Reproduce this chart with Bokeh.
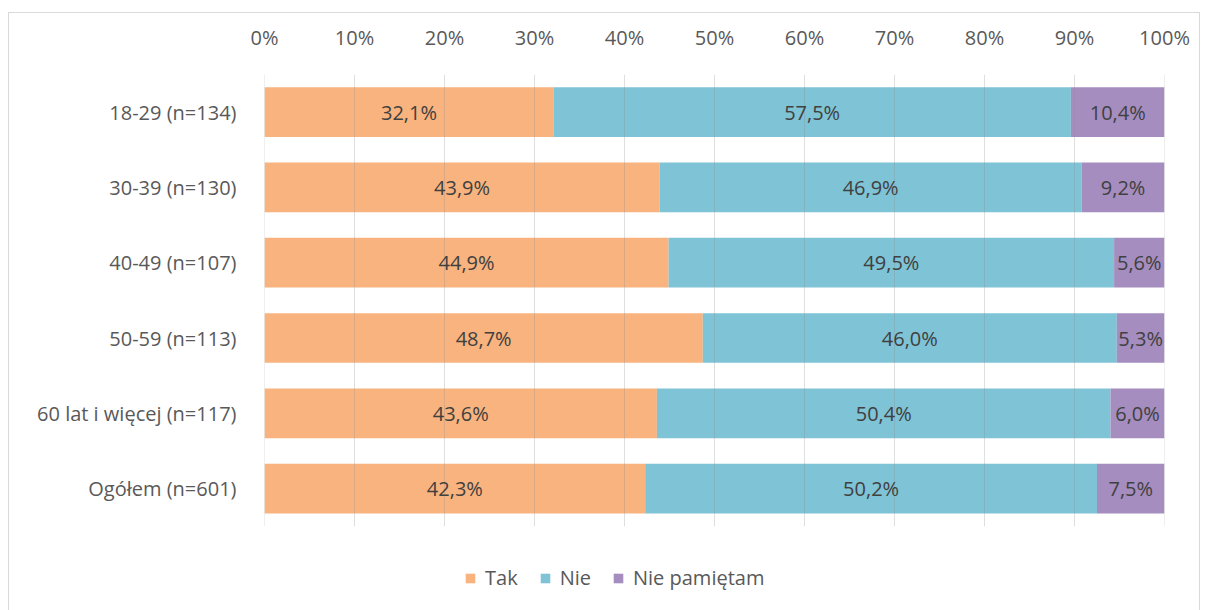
from bokeh.plotting import figure
from bokeh.models import ColumnDataSource, Range1d, Legend, LegendItem, FixedTicker
from bokeh.core.properties import value
from bokeh.embed import file_html
from bokeh.resources import INLINE

categories = ["18-29 (n=134)", "30-39 (n=130)", "40-49 (n=107)",
              "50-59 (n=113)", "60 lat i więcej (n=117)", "Ogółem (n=601)"]
tak = [32.1, 43.9, 44.9, 48.7, 43.6, 42.3]
nie = [57.5, 46.9, 49.5, 46.0, 50.4, 50.2]
nie_pamietam = [10.4, 9.2, 5.6, 5.3, 6.0, 7.5]
series_names = ["Tak", "Nie", "Nie pamiętam"]
colors = ["#F8B37E", "#7FC3D6", "#A58DBF"]
tick_values = list(range(0, 101, 10))

FONT = "Open Sans"
TXT = "#595959"
FS = "20px"

n = len(categories)
ypos = [n - i - 0.5 for i in range(n)]  # first category on top

source = ColumnDataSource(dict(y=ypos, tak=tak, nie=nie, niep=nie_pamietam))

p = figure(width=1192, height=600, output_backend="svg", toolbar_location=None,
           x_range=Range1d(0, 100), y_range=Range1d(-1.0, n),
           x_axis_location="above",
           min_border_left=255, min_border_right=37, min_border_top=61, min_border_bottom=12)
p.styles = {"border": "1px solid #d9d9d9", "margin-left": "8px", "margin-top": "12px"}
p.outline_line_color = None
p.background_fill_color = "white"
p.xgrid.grid_line_color = None
p.ygrid.grid_line_color = None

renderers = p.hbar_stack(["tak", "nie", "niep"], y="y", height=0.66,
                         color=colors, line_color=None, source=source)

# vertical gridlines over the category area
p.segment(x0=tick_values, x1=tick_values, y0=[0] * len(tick_values), y1=[n] * len(tick_values),
          line_color="#8c8c8c", line_alpha=0.28, line_width=1)

# labels centred in each segment
lx, ly, lt = [], [], []
for i in range(n):
    vals = [tak[i], nie[i], nie_pamietam[i]]
    start = 0
    for v in vals:
        lx.append(start + v / 2)
        ly.append(ypos[i])
        lt.append(f"{v:.1f}".replace(".", ",") + "%")
        start += v
p.text(x=lx, y=ly, text=lt, text_align="center", text_baseline="middle",
       text_font=value(FONT), text_font_size=FS, text_color="#404040")

# x axis (top)
xa = p.xaxis[0]
xa.ticker = FixedTicker(ticks=tick_values)
xa.major_label_overrides = {t: f"{t}%" for t in tick_values}
xa.axis_line_color = None
xa.major_tick_line_color = None
xa.minor_tick_line_color = None
xa.major_label_text_font = FONT
xa.major_label_text_font_size = FS
xa.major_label_text_color = TXT
xa.major_label_standoff = 18

ya = p.yaxis[0]
ya.ticker = FixedTicker(ticks=ypos)
ya.major_label_overrides = {y: c for y, c in zip(ypos, categories)}
ya.axis_line_color = None
ya.major_tick_line_color = None
ya.minor_tick_line_color = None
ya.major_label_text_font = FONT
ya.major_label_text_font_size = FS
ya.major_label_text_color = TXT
ya.major_label_standoff = 22

legend = Legend(items=[LegendItem(label=s, renderers=[r]) for s, r in zip(series_names, renderers)],
                orientation="horizontal", location=(200, 10))
legend.label_text_font = FONT
legend.label_text_font_size = FS
legend.label_text_color = TXT
legend.glyph_width = 12
legend.glyph_height = 12
legend.label_standoff = 9
legend.spacing = 21
legend.padding = 0
legend.margin = 0
legend.border_line_color = None
legend.background_fill_alpha = 0
p.add_layout(legend, "center")

open("out.html", "w").write(file_html(p, INLINE))
